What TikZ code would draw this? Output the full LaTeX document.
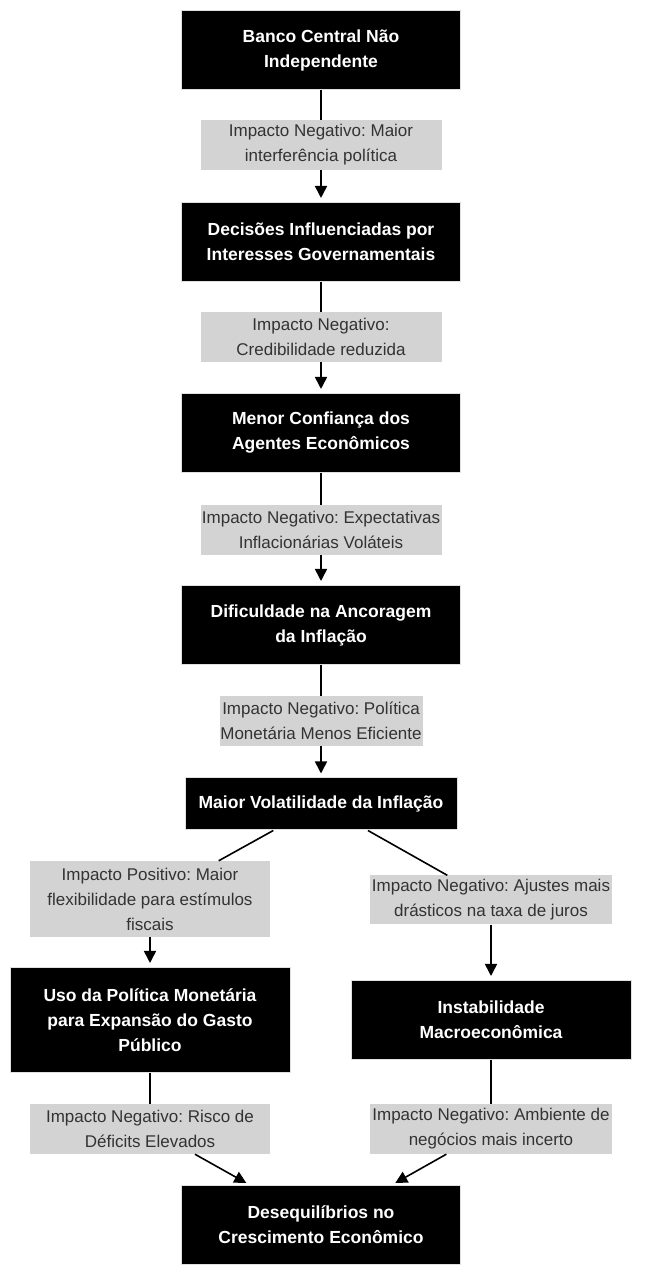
\documentclass[tikz,border=0pt]{standalone}
\usepackage{fontspec}
\setmainfont{Liberation Sans}
\usetikzlibrary{arrows.meta}
\definecolor{lblgray}{HTML}{D3D3D3}
\definecolor{lbltext}{HTML}{333333}
\frenchspacing

\tikzset{
  stage/.style={draw=black!12, line width=1pt, fill=black, text=white,
    font=\bfseries\fontsize{17.5}{25}\selectfont, align=center, inner sep=0pt,
    minimum width=279pt, minimum height=79pt},
  impact/.style={fill=lblgray, text=lbltext, font=\fontsize{17}{25}\selectfont,
    align=center, inner sep=0pt, minimum width=241pt, minimum height=50pt},
  link/.style={line width=1.6pt},
  arr/.style={line width=1.6pt, -{Triangle[length=12pt,width=12pt]}, shorten >=4pt},
}

\begin{document}
\begin{tikzpicture}[x=1pt,y=1pt]
\useasboundingbox (0,0) rectangle (645,1280);

% Main chain
\node[stage] (banco) at (321,1230) {Banco Central Não\\Independente};
\node[impact] (interf) at (321,1135) {Impacto Negativo: Maior\\interferência política};
\node[stage] (decis) at (321,1038) {Decisões Influenciadas por\\Interesses Governamentais};
\node[impact] (cred) at (321,943) {Impacto Negativo:\\Credibilidade reduzida};
\node[stage] (confi) at (321,847) {Menor Confiança dos\\Agentes Econômicos};
\node[impact] (expect) at (321,750) {Impacto Negativo: Expectativas\\Inflacionárias Voláteis};
\node[stage] (ancor) at (321,655) {Dificuldade na Ancoragem\\da Inflação};
\node[impact, minimum width=203pt] (polmon) at (321,559) {Impacto Negativo: Política\\Monetária Menos Eficiente};
\node[stage, minimum width=272pt, minimum height=52pt] (volat) at (321,476) {Maior Volatilidade da Inflação};

% Branches
\node[impact, minimum width=240pt, minimum height=76pt] (flexi) at (150,381) {Impacto Positivo: Maior\\flexibilidade para estímulos\\fiscais};
\node[impact, minimum width=242pt, minimum height=49pt] (ajust) at (491,380) {Impacto Negativo: Ajustes mais\\drásticos na taxa de juros};
\node[stage, minimum width=280pt, minimum height=105pt] (gasto) at (150,260) {Uso da Política Monetária\\para Expansão do Gasto\\Público};
\node[stage, minimum width=280pt] (instab) at (491,260) {Instabilidade\\Macroeconômica};
\node[impact, minimum width=240pt] (deficit) at (150,151) {Impacto Negativo: Risco de\\Déficits Elevados};
\node[impact, minimum width=242pt] (ambiente) at (491,151) {Impacto Negativo: Ambiente de\\negócios mais incerto};
\node[stage] (deseq) at (321,55) {Desequilíbrios no\\Crescimento Econômico};

% Connectors
\draw[link] (banco) -- (interf);
\draw[arr] (interf) -- (decis);
\draw[link] (decis) -- (cred);
\draw[arr] (cred) -- (confi);
\draw[link] (confi) -- (expect);
\draw[arr] (expect) -- (ancor);
\draw[link] (ancor) -- (polmon);
\draw[arr] (polmon) -- (volat);
\draw[link] (volat) -- (flexi);
\draw[arr] (flexi) -- (gasto);
\draw[link] (volat) -- (ajust);
\draw[arr] (ajust) -- (instab);
\draw[link] (gasto) -- (deficit);
\draw[arr] (deficit) -- (deseq);
\draw[link] (instab) -- (ambiente);
\draw[arr] (ambiente) -- (deseq);
\end{tikzpicture}
\end{document}
